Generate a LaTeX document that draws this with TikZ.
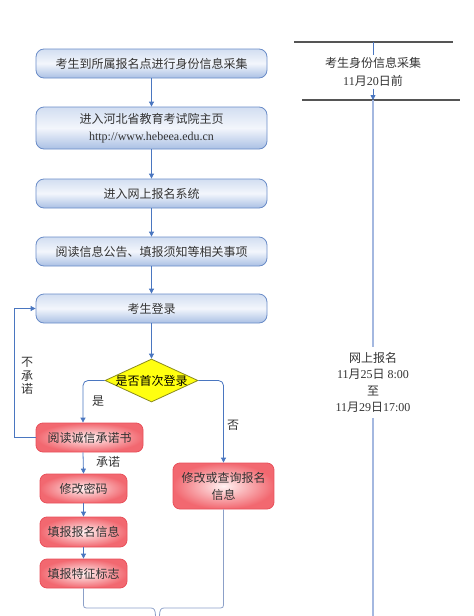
\documentclass[tikz,border=0pt]{standalone}
\usepackage{fontspec}
\setmainfont{Liberation Serif}
\newfontfamily\cjk{Noto Sans CJK SC}
\usetikzlibrary{shapes.geometric,arrows.meta}
\definecolor{bluebd}{HTML}{6A8CC8}
\definecolor{bluetop}{HTML}{D2DEF1}
\definecolor{bluemid}{HTML}{F3F6FC}
\definecolor{bluebot}{HTML}{AAC0E4}
\definecolor{redbd}{HTML}{E8505A}
\definecolor{redin}{HTML}{FFF2F2}
\definecolor{redout}{HTML}{F26870}
\definecolor{arrcol}{HTML}{4A76C0}
\definecolor{txtcol}{HTML}{333333}
\definecolor{diafill}{HTML}{FFFF10}
\definecolor{diabd}{HTML}{8A8A1E}
\definecolor{bracecol}{HTML}{8CA0C8}
\definecolor{lightline}{HTML}{A4B8E0}
\definecolor{grayline}{HTML}{555555}
\begin{document}
\begin{tikzpicture}[x=1pt,y=-1pt,
  font=\fontsize{12}{17}\selectfont,
  every node/.style={text=txtcol},
  bluebox/.style={rectangle, rounded corners=8pt, draw=bluebd, line width=0.8pt,
    top color=bluetop, bottom color=bluebot, middle color=bluemid,
    minimum width=231pt, minimum height=29pt, inner sep=2pt, align=center},
  redbox/.style={rectangle, rounded corners=7pt, draw=redbd, line width=0.8pt,
    inner color=redin, outer color=redout,
    minimum width=87pt, minimum height=29pt, inner sep=2pt, align=center},
  arr/.style={draw=arrcol, line width=0.8pt, -{Triangle[width=5pt,length=5pt]}},
  conn/.style={draw=arrcol, line width=0.8pt},
  brace/.style={draw=bracecol, line width=0.8pt},
  lbl/.style={inner sep=0pt, align=center}]
\useasboundingbox (0,0) rectangle (474,616);

% left flow
\node[bluebox] (b1) at (151.5,63.5) {\cjk 考生到所属报名点进行身份信息采集};
\node[bluebox, minimum height=42pt] (b2) at (151.5,128) {{\cjk 进入河北省教育考试院主页}\\http://www.hebeea.edu.cn};
\node[bluebox] (b3) at (151.5,193.5) {\cjk 进入网上报名系统};
\node[bluebox] (b4) at (151.5,251.5) {\cjk 阅读信息公告、填报须知等相关事项};
\node[bluebox] (b5) at (151.5,308.5) {\cjk 考生登录};

\node[diamond, draw=diabd, line width=0.8pt, fill=diafill, minimum width=93pt,
  minimum height=43pt, inner sep=0pt, text=black] (d) at (151.5,380.5)
  {\makebox[0pt]{\cjk 是否首次登录}};

\node[redbox, minimum width=107pt] (r1) at (89.5,437.5) {\cjk 阅读诚信承诺书};
\node[redbox] (r2) at (83.5,488.5) {\cjk 修改密码};
\node[redbox, minimum height=30pt] (r3) at (83.5,532) {\cjk 填报报名信息};
\node[redbox] (r4) at (83.5,573.5) {\cjk 填报特征标志};
\node[redbox, minimum width=101pt, minimum height=46pt] (r5) at (223.5,486)
  {\cjk 修改或查询报名\\\cjk 信息};

\draw[arr] (b1) -- (b2);
\draw[arr] (b2) -- (b3);
\draw[arr] (b3) -- (b4);
\draw[arr] (b4) -- (b5);
\draw[arr] (b5) -- (d);
\draw[arr, rounded corners=5pt] (d.west) -| ([xshift=-6.5pt]r1.north);
\draw[arr, rounded corners=5pt] (d.east) -| (r5.north);
\draw[arr] ([xshift=-6.5pt]r1.south) -- (r2.north);
\draw[arr] (r2) -- (r3);
\draw[arr] (r3) -- (r4);

\coordinate (lp) at (14,437.5);
\draw[arr] (r1.west) -- (lp) |- (b5.west);

\node[lbl] (lyes) at (98,401) {\cjk 是};
\node[lbl] (lno) at (233,425) {\cjk 否};
\node[lbl] (lcommit) at (108,462) {\cjk 承诺};
\node[lbl, font=\fontsize{12}{13.5}\selectfont] (lnot) at (27,376) {\cjk 不\\\cjk 承\\\cjk 诺};

% bottom brace
\coordinate (brl) at (155.5,616);
\coordinate (brr) at (159.5,616);
\draw[brace] (r4.south) -- (83.5,602)
  .. controls (83.5,608) .. (89.5,608) -- (151,608)
  .. controls (154,608) and (155.5,610) .. (brl);
\draw[brace] (r5.south) -- (223.5,602)
  .. controls (223.5,608) .. (217.5,608) -- (164,608)
  .. controls (161,608) and (159.5,610) .. (brr);

% right timeline
\coordinate (h1a) at (294,42);
\coordinate (h1b) at (453,42);
\coordinate (h2a) at (302,100);
\coordinate (h2b) at (460,100);
\draw[draw=grayline, line width=1.2pt] (h1a) -- (h1b);
\draw[draw=grayline, line width=1.2pt] (h2a) -- (h2b);
\coordinate (v1) at (373,42);
\coordinate (v2) at (373,100);
\coordinate (v3) at (373,616);
\node[lbl, inner sep=2pt, font=\fontsize{12}{18}\selectfont] (t1) at (373,72)
  {{\cjk 考生身份信息采集}\\11{\cjk 月}20{\cjk 日前}};
\node[lbl, inner sep=5pt, font=\fontsize{12}{16.5}\selectfont] (t2) at (373,382.5)
  {{\cjk 网上报名}\\11{\cjk 月}25{\cjk 日} 8:00\\{\cjk 至}\\11{\cjk 月}29{\cjk 日}17:00};
\draw[conn] (v1) -- (t1.north);
\draw[arr] (t1.south) -- (v2);
\draw[draw=lightline, line width=1.5pt] (v2) -- (t2.north);
\draw[draw=lightline, line width=1.5pt] (t2.south) -- (v3);
\end{tikzpicture}
\end{document}
